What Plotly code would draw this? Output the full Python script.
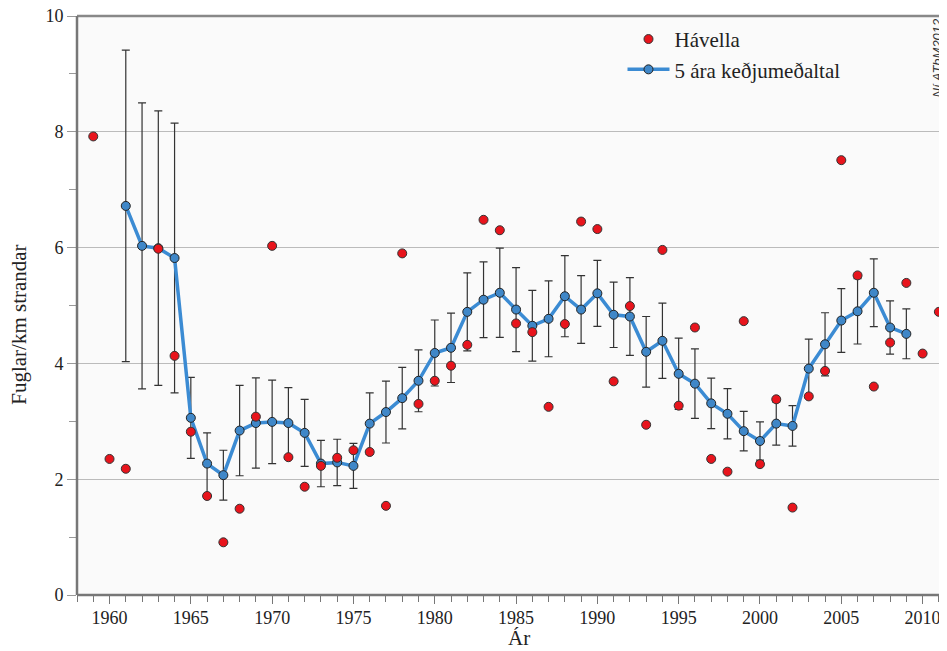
import plotly.graph_objects as go

# Hávella counts per year (birds per km of shore); 1962 lies off the chart
obs_years = list(range(1959, 2012))
obs_values = [
    7.92, 2.35, 2.18, None, 5.98, 4.13, 2.82, 1.71, 0.91, 1.49,
    3.08, 6.03, 2.38, 1.87, 2.23, 2.37, 2.50, 2.47, 1.54, 5.90,
    3.30, 3.70, 3.96, 4.32, 6.48, 6.30, 4.69, 4.54, 3.25, 4.68,
    6.45, 6.32, 3.69, 4.99, 2.94, 5.96, 3.27, 4.62, 2.35, 2.13,
    4.73, 2.26, 3.38, 1.51, 3.43, 3.87, 7.51, 5.52, 3.60, 4.36,
    5.39, 4.17, 4.89,
]

# 5-year running mean with error bars
avg_years = list(range(1961, 2010))
avg_values = [
    6.72, 6.03, 5.99, 5.82, 3.06, 2.27, 2.07, 2.84, 2.97, 2.99,
    2.97, 2.80, 2.27, 2.29, 2.23, 2.96, 3.16, 3.40, 3.70, 4.18,
    4.27, 4.89, 5.10, 5.22, 4.93, 4.65, 4.77, 5.16, 4.93, 5.21,
    4.84, 4.81, 4.20, 4.39, 3.82, 3.65, 3.31, 3.13, 2.83, 2.66,
    2.96, 2.92, 3.91, 4.33, 4.74, 4.90, 5.22, 4.62, 4.51,
]
avg_errors = [
    2.69, 2.47, 2.37, 2.33, 0.70, 0.53, 0.43, 0.78, 0.78, 0.72,
    0.61, 0.58, 0.40, 0.40, 0.39, 0.53, 0.535, 0.53, 0.535, 0.57,
    0.60, 0.675, 0.655, 0.77, 0.725, 0.61, 0.655, 0.70, 0.585, 0.57,
    0.565, 0.67, 0.61, 0.65, 0.615, 0.60, 0.435, 0.435, 0.34, 0.33,
    0.37, 0.35, 0.51, 0.545, 0.55, 0.565, 0.585, 0.46, 0.43,
]

SERIF = "Liberation Serif, serif"
AXIS_GREY = "#777777"

fig = go.Figure()

fig.add_trace(
    go.Scatter(
        x=avg_years,
        y=avg_values,
        name="5 ára keðjumeðaltal",
        mode="lines+markers",
        line=dict(color="#3b8bd3", width=3.5),
        marker=dict(size=9, color="#3f87c8", line=dict(color="#222222", width=1)),
        error_y=dict(
            type="data",
            array=avg_errors,
            visible=True,
            color="#333333",
            thickness=1.2,
            width=4,
        ),
        legendrank=2,
    )
)

fig.add_trace(
    go.Scatter(
        x=obs_years,
        y=obs_values,
        name="Hávella",
        mode="markers",
        marker=dict(size=9, color="#e8141c", line=dict(color="#333333", width=1)),
        legendrank=1,
    )
)


def frame_line(x0, y0, x1, y1, color):
    return dict(
        type="line", xref="paper", yref="paper",
        x0=x0, y0=y0, x1=x1, y1=y1,
        line=dict(color=color, width=2.5),
        layer="above",
    )


# the page body has an 8px margin, so the figure is drawn 8px smaller
fig.update_layout(
    width=939,
    height=643,
    margin=dict(l=69, r=0, t=8, b=56),
    paper_bgcolor="white",
    plot_bgcolor="#fafafa",
    font=dict(family=SERIF, size=18, color="#222222"),
    showlegend=True,
    legend=dict(
        x=0.627,
        y=0.995,
        xanchor="left",
        yanchor="top",
        bgcolor="rgba(0,0,0,0)",
        font=dict(family=SERIF, size=21, color="#222222"),
        itemwidth=42,
        tracegroupgap=0,
    ),
    xaxis=dict(
        range=[1958, 2011.5],
        tick0=1960,
        dtick=5,
        ticks="outside",
        ticklen=8,
        tickcolor=AXIS_GREY,
        tickwidth=1,
        minor=dict(dtick=1, ticks="outside", ticklen=6, tickcolor=AXIS_GREY),
        showgrid=False,
        zeroline=False,
        showline=False,
        automargin=False,
        ticklabelstandoff=-2,
        tickfont=dict(family=SERIF, size=18),
    ),
    yaxis=dict(
        range=[0, 10],
        dtick=2,
        ticks="outside",
        ticklen=9,
        tickcolor="#999999",
        minor=dict(dtick=1, ticks="outside", ticklen=7, tickcolor="#999999", showgrid=False),
        showgrid=True,
        gridcolor="#bbbbbb",
        gridwidth=1,
        zeroline=False,
        showline=False,
        automargin=False,
        ticklabeloverflow="allow",
        tickfont=dict(family=SERIF, size=18),
    ),
    shapes=[
        frame_line(0, 1, 1, 1, "#888888"),
        frame_line(0, 0, 0, 1, AXIS_GREY),
        frame_line(0, 0, 1, 0, AXIS_GREY),
    ],
    annotations=[
        dict(
            text="Ár",
            xref="paper", yref="paper",
            x=0.508, y=-0.075,
            xanchor="center", yanchor="middle",
            showarrow=False,
            font=dict(family=SERIF, size=21, color="#222222"),
        ),
        dict(
            text="Fuglar/km strandar",
            xref="paper", yref="paper",
            x=-0.066, y=0.466,
            xanchor="center", yanchor="middle",
            textangle=-90,
            showarrow=False,
            font=dict(family=SERIF, size=21, color="#222222"),
        ),
        dict(
            text="<i>Ní ATbM2012</i>",
            xref="paper", yref="paper",
            x=1.0, y=0.855,
            xanchor="right", yanchor="bottom",
            textangle=-90,
            showarrow=False,
            font=dict(family="Liberation Sans, sans-serif", size=13, color="#333333"),
        ),
    ],
)

fig.write_html("out.html")
